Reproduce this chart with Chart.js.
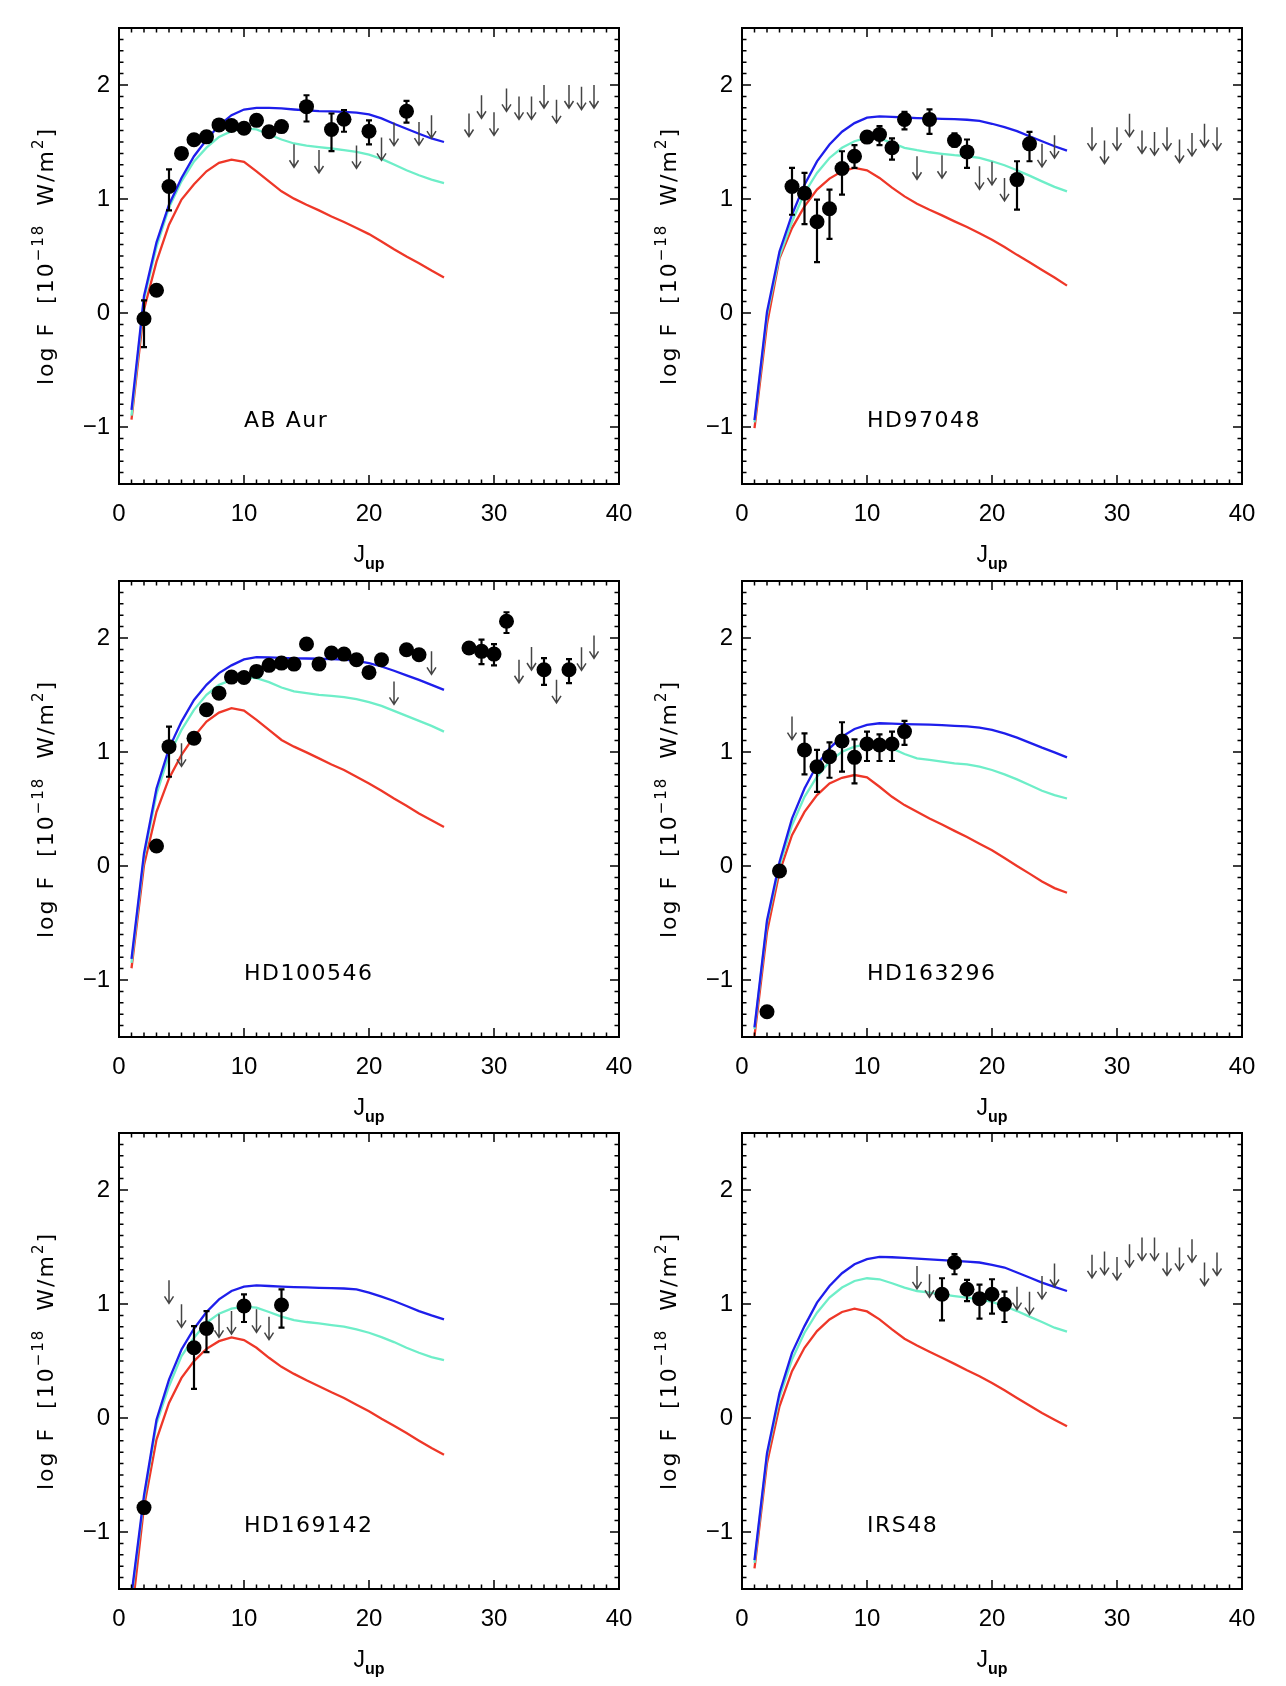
<!DOCTYPE html>
<html>
<head>
<meta charset="utf-8">
<script src="https://cdn.jsdelivr.net/npm/chart.js@4.4.0/dist/chart.umd.min.js"></script>
<style>
  body { margin: 0; background: #fff; width: 1286px; height: 1686px; position: relative; overflow: hidden; }
  canvas { position: absolute; }
</style>
</head>
<body>
<script>
// model grid (J_up) shared by all curves
const jModel = [1,2,3,4,5,6,7,8,9,10,11,12,13,14,15,16,17,18,19,20,21,22,23,24,25,26];

// axis ticks
const xTicks = [0, 10, 20, 30, 40];
const xTickLabels = ['0', '10', '20', '30', '40'];
const yTicks = [-1, 0, 1, 2];
const yTickLabels = ['\u22121', '0', '1', '2'];

// ---- AB Aur
const abAurBlue = [-0.85,0.15,0.62,0.95,1.185,1.375,1.52,1.645,1.735,1.785,1.80,1.80,1.795,1.785,1.777,1.771,1.768,1.765,1.757,1.742,1.707,1.66,1.616,1.572,1.531,1.50];
const abAurCyan = [-0.90,0.12,0.58,0.925,1.155,1.33,1.45,1.545,1.595,1.62,1.61,1.566,1.522,1.487,1.469,1.455,1.443,1.428,1.413,1.39,1.352,1.302,1.252,1.208,1.17,1.14];
const abAurRed = [-0.935,0.03,0.45,0.775,0.995,1.13,1.243,1.317,1.346,1.326,1.243,1.155,1.067,1.003,0.95,0.90,0.847,0.798,0.745,0.692,0.628,0.56,0.496,0.437,0.372,0.311];
const abAurJ = [2,3,4,5,6,7,8,9,10,11,12,13,15,17,18,20,23];
const abAurF = [-0.05,0.20,1.11,1.40,1.52,1.545,1.65,1.645,1.62,1.69,1.59,1.635,1.81,1.61,1.70,1.595,1.77];
const abAurLo = [-0.30,null,0.90,null,null,null,null,null,null,null,null,null,1.68,1.42,1.59,1.48,1.67];
const abAurHi = [0.11,null,1.26,null,null,null,null,null,null,null,null,null,1.91,1.75,1.78,1.69,1.86];
const abAurLimJ = [14,16,19,21,22,24,25,28,29,30,31,32,33,34,35,36,37,38];
const abAurLim = [1.48,1.43,1.47,1.54,1.67,1.675,1.735,1.75,1.91,1.76,1.97,1.90,1.90,2.00,1.87,2.00,1.985,2.00];

// ---- HD97048
const hd97048Blue = [-0.94,0.01,0.54,0.862,1.126,1.33,1.478,1.59,1.666,1.713,1.724,1.721,1.715,1.71,1.707,1.703,1.70,1.695,1.685,1.66,1.63,1.595,1.55,1.507,1.463,1.425];
const hd97048Cyan = [-0.96,-0.02,0.50,0.80,1.053,1.229,1.36,1.449,1.507,1.537,1.531,1.493,1.449,1.428,1.41,1.396,1.384,1.375,1.36,1.331,1.296,1.252,1.205,1.155,1.106,1.067];
const hd97048Red = [-1.01,-0.10,0.48,0.745,0.935,1.082,1.179,1.243,1.273,1.252,1.185,1.10,1.023,0.959,0.906,0.856,0.804,0.754,0.70,0.642,0.578,0.51,0.446,0.378,0.311,0.24];
const hd97048J = [4,5,6,7,8,9,10,11,12,13,15,17,18,22,23];
const hd97048F = [1.11,1.05,0.80,0.915,1.267,1.375,1.543,1.566,1.449,1.698,1.698,1.513,1.413,1.17,1.484];
const hd97048Lo = [0.862,0.78,0.446,0.651,1.038,1.273,null,1.472,1.346,1.61,1.572,1.46,1.273,0.906,1.331];
const hd97048Hi = [1.273,1.229,0.994,1.082,1.419,1.472,null,1.64,1.531,1.765,1.786,1.575,1.522,1.331,1.589];
const hd97048LimJ = [14,16,19,20,21,24,25,28,29,30,31,32,33,34,35,36,37,38];
const hd97048Lim = [1.375,1.384,1.287,1.326,1.185,1.484,1.56,1.63,1.513,1.63,1.748,1.601,1.587,1.63,1.522,1.58,1.66,1.63];

// ---- HD100546
const hd100546Blue = [-0.815,0.11,0.68,1.032,1.267,1.457,1.589,1.692,1.76,1.812,1.833,1.83,1.825,1.822,1.82,1.818,1.815,1.81,1.80,1.78,1.75,1.713,1.672,1.633,1.589,1.545];
const hd100546Cyan = [-0.85,0.08,0.63,0.974,1.194,1.37,1.501,1.589,1.633,1.654,1.648,1.613,1.566,1.531,1.516,1.501,1.493,1.481,1.463,1.437,1.405,1.361,1.317,1.273,1.229,1.179];
const hd100546Red = [-0.897,0.006,0.475,0.768,0.974,1.135,1.267,1.346,1.384,1.364,1.282,1.194,1.106,1.047,0.997,0.944,0.891,0.842,0.783,0.724,0.66,0.592,0.528,0.46,0.402,0.343];
const hd100546J = [3,4,6,7,8,9,10,11,12,13,14,15,16,17,18,19,20,21,23,24,28,29,30,31,34,36];
const hd100546F = [0.176,1.047,1.12,1.37,1.516,1.657,1.654,1.707,1.76,1.78,1.771,1.947,1.771,1.868,1.859,1.809,1.698,1.809,1.897,1.853,1.912,1.883,1.859,2.147,1.721,1.721];
const hd100546Lo = [null,0.783,null,null,null,null,null,null,null,null,null,null,null,null,null,null,null,null,null,null,null,1.771,1.76,2.044,1.589,1.604];
const hd100546Hi = [null,1.223,null,null,null,null,null,null,null,null,null,null,null,null,null,null,null,null,null,null,null,1.985,1.947,2.226,1.824,1.815];
const hd100546LimJ = [5,22,25,32,33,35,37,38];
const hd100546Lim = [1.076,1.619,1.883,1.809,1.921,1.633,1.918,2.023];

// ---- HD163296
const hd163296Blue = [-1.416,-0.478,0.035,0.416,0.68,0.886,1.032,1.135,1.202,1.238,1.252,1.249,1.245,1.243,1.24,1.235,1.23,1.225,1.214,1.194,1.164,1.126,1.082,1.038,0.997,0.953];
const hd163296Cyan = [-1.43,-0.50,0.0,0.358,0.607,0.783,0.915,1.003,1.047,1.067,1.062,1.032,0.982,0.944,0.93,0.915,0.90,0.891,0.871,0.842,0.804,0.76,0.71,0.66,0.622,0.592];
const hd163296Red = [-1.49,-0.58,-0.053,0.27,0.475,0.622,0.724,0.774,0.798,0.777,0.695,0.607,0.534,0.475,0.416,0.364,0.308,0.255,0.196,0.138,0.07,0.0,-0.067,-0.135,-0.194,-0.235];
const hd163296J = [2,3,5,6,7,8,9,10,11,12,13];
const hd163296F = [-1.279,-0.044,1.018,0.871,0.959,1.097,0.953,1.07,1.062,1.07,1.179];
const hd163296Lo = [null,null,0.804,0.651,0.774,0.827,0.724,0.921,0.921,0.921,1.062];
const hd163296Hi = [null,null,1.164,1.018,1.085,1.261,1.111,1.179,1.155,1.179,1.273];
const hd163296LimJ = [4];
const hd163296Lim = [1.311];

// ---- HD169142
const hd169142Blue = [-1.55,-0.68,-0.015,0.337,0.601,0.783,0.93,1.041,1.114,1.152,1.164,1.158,1.152,1.148,1.145,1.142,1.14,1.136,1.129,1.10,1.064,1.026,0.982,0.938,0.90,0.865];
const hd169142Cyan = [-1.58,-0.71,-0.05,0.279,0.543,0.704,0.836,0.915,0.959,0.977,0.968,0.93,0.889,0.859,0.842,0.83,0.815,0.801,0.777,0.748,0.71,0.666,0.616,0.572,0.534,0.507];
const hd169142Red = [-1.74,-0.78,-0.19,0.132,0.352,0.499,0.607,0.674,0.707,0.683,0.616,0.528,0.449,0.387,0.331,0.279,0.226,0.176,0.117,0.059,-0.006,-0.067,-0.132,-0.199,-0.264,-0.323];
const hd169142J = [2,6,7,10,13];
const hd169142F = [-0.786,0.616,0.786,0.982,0.991];
const hd169142Lo = [null,0.255,0.578,0.842,0.792];
const hd169142Hi = [null,0.806,0.938,1.085,1.129];
const hd169142LimJ = [4,5,8,9,11,12];
const hd169142Lim = [1.208,0.997,0.909,0.938,0.953,0.889];

// ---- IRS48
const irs48Blue = [-1.246,-0.308,0.22,0.572,0.806,1.012,1.158,1.27,1.349,1.393,1.413,1.41,1.404,1.398,1.392,1.385,1.378,1.371,1.364,1.343,1.32,1.276,1.232,1.188,1.15,1.114];
const irs48Cyan = [-1.27,-0.33,0.18,0.513,0.748,0.924,1.056,1.144,1.202,1.226,1.217,1.182,1.144,1.114,1.10,1.085,1.07,1.056,1.041,1.018,0.982,0.938,0.889,0.842,0.792,0.757];
const irs48Red = [-1.32,-0.396,0.103,0.411,0.616,0.762,0.865,0.93,0.959,0.935,0.865,0.777,0.695,0.636,0.581,0.528,0.475,0.419,0.367,0.308,0.243,0.176,0.109,0.044,-0.015,-0.073];
const irs48J = [16,17,18,19,20,21];
const irs48F = [1.085,1.364,1.129,1.047,1.085,0.997];
const irs48Lo = [0.856,1.261,1.026,0.871,0.915,0.842];
const irs48Hi = [1.226,1.437,1.211,1.17,1.217,1.108];
const irs48LimJ = [14,15,22,23,24,25,28,29,30,31,32,33,34,35,36,37,38];
const irs48Lim = [1.334,1.261,1.152,1.108,1.246,1.355,1.431,1.46,1.413,1.525,1.584,1.584,1.452,1.496,1.569,1.364,1.452];

// layout of the 2x3 grid (plot box corners, px)
const colLeft = [119, 742];
const rowTop = [28, 581, 1133];
const boxW = 500, boxH = 456;
const padL = 110, padT = 10, padR = 26, padB = 94;

const FONT = "'Liberation Sans', Arial, Helvetica, sans-serif";
const WIDE = "'DejaVu Sans', 'Liberation Sans', sans-serif";
const BLUE = 'rgb(30,30,235)', CYAN = 'rgb(110,238,200)', RED = 'rgb(238,55,40)';

const panels = [
    { name: 'AB Aur', blue: abAurBlue, cyan: abAurCyan, red: abAurRed, j: abAurJ, f: abAurF, lo: abAurLo, hi: abAurHi, limJ: abAurLimJ, lim: abAurLim },
    { name: 'HD97048', blue: hd97048Blue, cyan: hd97048Cyan, red: hd97048Red, j: hd97048J, f: hd97048F, lo: hd97048Lo, hi: hd97048Hi, limJ: hd97048LimJ, lim: hd97048Lim },
    { name: 'HD100546', blue: hd100546Blue, cyan: hd100546Cyan, red: hd100546Red, j: hd100546J, f: hd100546F, lo: hd100546Lo, hi: hd100546Hi, limJ: hd100546LimJ, lim: hd100546Lim },
    { name: 'HD163296', blue: hd163296Blue, cyan: hd163296Cyan, red: hd163296Red, j: hd163296J, f: hd163296F, lo: hd163296Lo, hi: hd163296Hi, limJ: hd163296LimJ, lim: hd163296Lim },
    { name: 'HD169142', blue: hd169142Blue, cyan: hd169142Cyan, red: hd169142Red, j: hd169142J, f: hd169142F, lo: hd169142Lo, hi: hd169142Hi, limJ: hd169142LimJ, lim: hd169142Lim },
    { name: 'IRS48', blue: irs48Blue, cyan: irs48Cyan, red: irs48Red, j: irs48J, f: irs48F, lo: irs48Lo, hi: irs48Hi, limJ: irs48LimJ, lim: irs48Lim }
];

// draws text pieces [text, font, dy] one after the other, centred on 0
function drawPieces(ctx, pieces) {
    let total = 0;
    pieces.forEach(p => { ctx.font = p[1]; total += ctx.measureText(p[0]).width; });
    let cx = -total / 2;
    pieces.forEach(p => {
        ctx.font = p[1];
        ctx.fillText(p[0], cx, p[2]);
        cx += ctx.measureText(p[0]).width;
    });
}

function makeDecor(p) {
    return {
        id: 'decor',
        afterDatasetsDraw(chart) {
            const { ctx, scales: { x, y } } = chart;
            ctx.save();
            // error bars
            ctx.strokeStyle = '#000';
            ctx.lineWidth = 2.2;
            p.j.forEach((j, i) => {
                if (p.lo[i] === null) return;
                const px = x.getPixelForValue(j);
                const y1 = y.getPixelForValue(p.lo[i]), y2 = y.getPixelForValue(p.hi[i]);
                ctx.beginPath();
                ctx.moveTo(px, y1); ctx.lineTo(px, y2);
                ctx.moveTo(px - 3, y1); ctx.lineTo(px + 3, y1);
                ctx.moveTo(px - 3, y2); ctx.lineTo(px + 3, y2);
                ctx.stroke();
            });
            // upper limits
            ctx.strokeStyle = '#444';
            ctx.lineWidth = 1.5;
            p.limJ.forEach((j, i) => {
                const px = x.getPixelForValue(j), py = y.getPixelForValue(p.lim[i]);
                ctx.beginPath();
                ctx.moveTo(px, py); ctx.lineTo(px, py + 23);
                ctx.moveTo(px - 4.5, py + 16); ctx.lineTo(px, py + 23); ctx.lineTo(px + 4.5, py + 16);
                ctx.stroke();
            });
            ctx.restore();
        },
        afterDraw(chart) {
            const { ctx, chartArea: a, scales: { x, y } } = chart;
            ctx.save();
            ctx.strokeStyle = '#000';
            // minor + major ticks, inside the box on all sides
            ctx.lineWidth = 1.5;
            ctx.beginPath();
            for (let v = 0; v <= 40; v++) {
                const px = x.getPixelForValue(v), len = v % 10 === 0 ? 9 : 4.5;
                ctx.moveTo(px, a.bottom); ctx.lineTo(px, a.bottom - len);
                ctx.moveTo(px, a.top); ctx.lineTo(px, a.top + len);
            }
            for (let k = -15; k <= 25; k++) {
                const py = y.getPixelForValue(k / 10), len = k % 10 === 0 ? 9 : 4.5;
                ctx.moveTo(a.left, py); ctx.lineTo(a.left + len, py);
                ctx.moveTo(a.right, py); ctx.lineTo(a.right - len, py);
            }
            ctx.stroke();
            ctx.lineWidth = 2;
            ctx.strokeRect(a.left, a.top, a.right - a.left, a.bottom - a.top);

            ctx.fillStyle = '#000';
            ctx.font = '24px ' + FONT;
            ctx.textAlign = 'center';
            ctx.textBaseline = 'middle';
            xTicks.forEach((v, i) => ctx.fillText(xTickLabels[i], x.getPixelForValue(v), a.bottom + 30));
            ctx.textAlign = 'right';
            yTicks.forEach((v, i) => ctx.fillText(yTickLabels[i], a.left - 9, y.getPixelForValue(v)));

            // x title: J_up
            ctx.textAlign = 'left';
            ctx.textBaseline = 'alphabetic';
            ctx.save();
            ctx.translate((a.left + a.right) / 2, a.bottom + 78);
            drawPieces(ctx, [['J', '23px ' + FONT, 0], ['up', 'bold 16px ' + FONT, 7]]);
            ctx.restore();

            // y title
            ctx.save();
            ctx.translate(a.left - 74, (a.top + a.bottom) / 2);
            ctx.rotate(-Math.PI / 2);
            ctx.letterSpacing = '2px';
            const big = '22px ' + WIDE, small = '15px ' + WIDE;
            drawPieces(ctx, [['log F  [10', big, 8], ['\u221218', small, -2], ['  W/m', big, 8], ['2', small, -2], [']', big, 8]]);
            ctx.restore();

            // object name
            ctx.letterSpacing = '1.5px';
            ctx.font = '22px ' + WIDE;
            ctx.fillText(p.name, x.getPixelForValue(10), y.getPixelForValue(-1));
            ctx.restore();
        }
    };
}

const toXY = (js, vals) => js.map((j, i) => ({ x: j, y: vals[i] }));

panels.forEach((p, idx) => {
    const col = idx % 2, row = Math.floor(idx / 2);
    const cv = document.createElement('canvas');
    cv.width = padL + boxW + padR;
    cv.height = padT + boxH + padB;
    cv.style.left = (colLeft[col] - padL) + 'px';
    cv.style.top = (rowTop[row] - padT) + 'px';
    document.body.appendChild(cv);

    const line = (vals, color, order) => ({
        type: 'line', data: toXY(jModel, vals), borderColor: color, borderWidth: 2.3,
        pointRadius: 0, tension: 0, fill: false, order: order
    });

    new Chart(cv, {
        type: 'scatter',
        data: {
            datasets: [
                { data: toXY(p.j, p.f), backgroundColor: '#000', borderWidth: 0, pointRadius: 7.5, order: 0 },
                line(p.blue, BLUE, 1),
                line(p.cyan, CYAN, 2),
                line(p.red, RED, 3)
            ]
        },
        options: {
            responsive: false,
            animation: false,
            layout: { padding: { left: padL, top: padT, right: padR, bottom: padB } },
            plugins: { legend: { display: false }, tooltip: { enabled: false } },
            scales: {
                x: { type: 'linear', min: 0, max: 40, display: false },
                y: { type: 'linear', min: -1.5, max: 2.5, display: false }
            }
        },
        plugins: [makeDecor(p)]
    });
});
</script>
</body>
</html>
